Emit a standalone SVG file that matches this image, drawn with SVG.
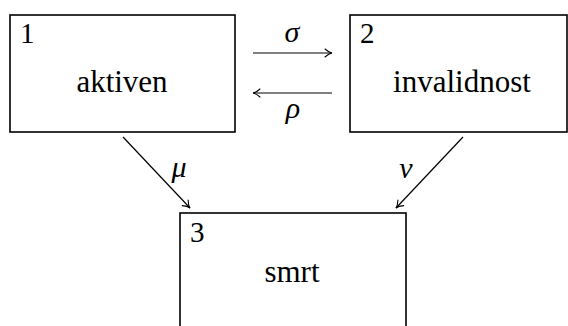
<svg xmlns="http://www.w3.org/2000/svg" width="568" height="326" viewBox="0 0 568 326" font-family="'Times New Roman', 'Liberation Serif', serif">
<defs>
<marker id="arr" viewBox="-8 -5 10 10" refX="0" refY="0" markerWidth="10" markerHeight="10" markerUnits="userSpaceOnUse" orient="auto">
<path d="M-7,-4 Q-3,-0.5 0,0 Q-3,0.5 -7,4" fill="none" stroke="#000" stroke-width="1.1" stroke-linecap="round"/>
</marker>
</defs>
<rect width="568" height="326" fill="#fff"/>
<g id="node1">
<rect fill="#fff" stroke="#000" stroke-width="1.6" x="10" y="15" width="225" height="117"/>
<text font-family="Times New Roman, serif" font-size="29" x="20" y="43">1</text>
<text font-family="Times New Roman, serif" font-size="31" x="122" y="92" text-anchor="middle">aktiven</text>
</g>
<g id="node2">
<rect fill="#fff" stroke="#000" stroke-width="1.6" x="350" y="15" width="217" height="117"/>
<text font-family="Times New Roman, serif" font-size="29" x="360" y="43">2</text>
<text font-family="Times New Roman, serif" font-size="31" x="462" y="92" text-anchor="middle">invalidnost</text>
</g>
<g id="node3">
<rect fill="#fff" stroke="#000" stroke-width="1.6" x="180" y="213" width="226" height="130"/>
<text font-family="Times New Roman, serif" font-size="29" x="190" y="242">3</text>
<text font-family="Times New Roman, serif" font-size="31" x="292" y="282" text-anchor="middle">smrt</text>
</g>
<g id="connectors" stroke="#000" stroke-width="1.2" fill="none">
<line marker-end="url(#arr)" x1="253" y1="53" x2="332" y2="53"/>
<line marker-end="url(#arr)" x1="332" y1="93" x2="253" y2="93"/>
<line marker-end="url(#arr)" x1="123" y1="137" x2="190" y2="208"/>
<line marker-end="url(#arr)" x1="463" y1="137" x2="396" y2="208"/>
</g>
<g id="labels">
<text font-family="Times New Roman, serif" font-size="30" font-style="italic" x="292" y="42" text-anchor="middle">σ</text>
<text font-family="Times New Roman, serif" font-size="30" font-style="italic" x="293" y="118" text-anchor="middle">ρ</text>
<text font-family="Times New Roman, serif" font-size="30" font-style="italic" x="179" y="177" text-anchor="middle">μ</text>
<text font-family="Times New Roman, serif" font-size="30" font-style="italic" x="406" y="178" text-anchor="middle">ν</text>
</g>
</svg>
